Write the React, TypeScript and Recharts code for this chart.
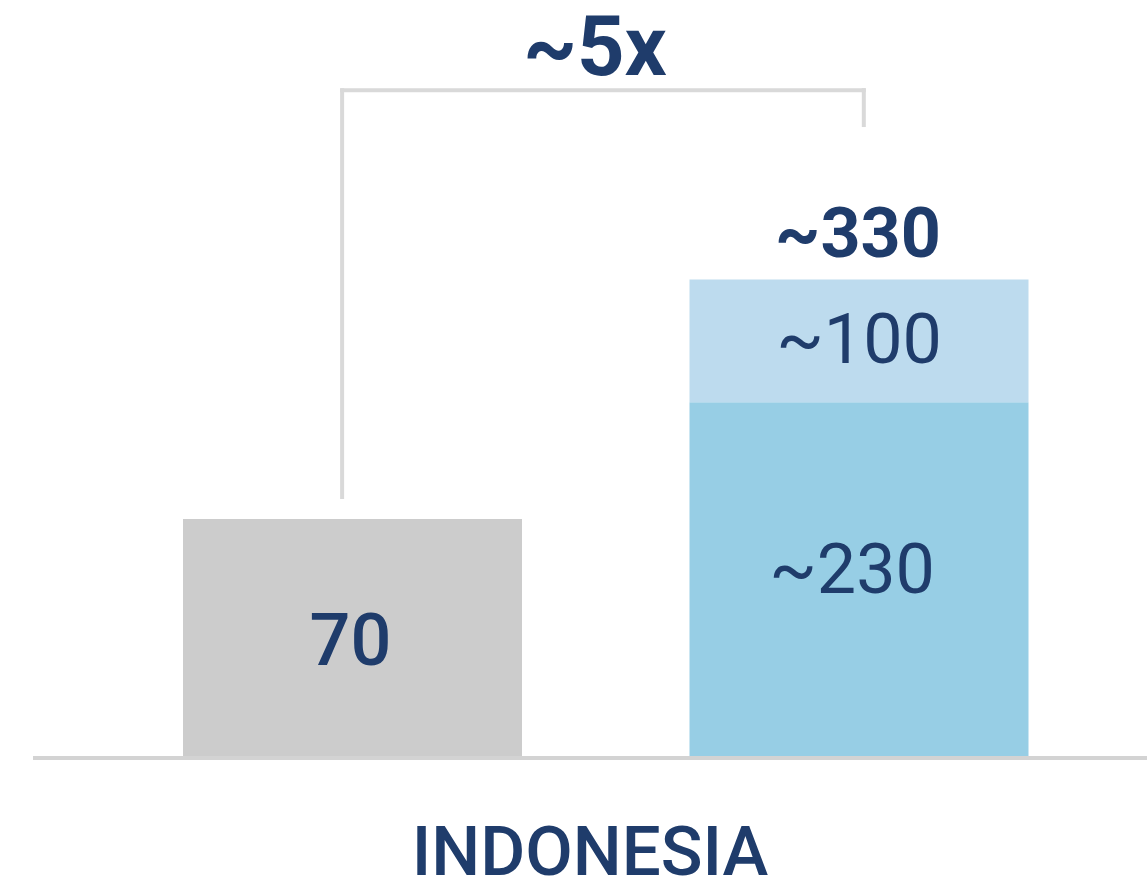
import { Bar, BarChart, LabelList, ReferenceLine, XAxis, YAxis, Label } from "recharts";

// drawn bar heights (the picture is not to scale, labels carry the real numbers)
const categories = ["current", "potential"];
const grayValues = [70, null];
const baseValues = [null, 104.5];
const topValues = [null, 36.3];

const grayLabels = ["70", ""];
const baseLabels = ["", "~230"];
const topLabels = ["", "~100"];
const totalLabels = ["", "~330"];

const countryLabel = "INDONESIA";
const ratioLabel = "~5x";

// bracket, x in category units (0..2), y in the same units as the bars
const bracketLeftX = 0.48;
const bracketRightX = 1.51;
const bracketTopY = 196.7;
const bracketLeftBottomY = 76.5;
const bracketRightBottomY = 186.4;

const NAVY = "#1f3c6b";
const FONT = "Roboto, 'Noto Sans', sans-serif";

const chartData = categories.map((name, i) => ({
    name,
    gray: grayValues[i],
    base: baseValues[i],
    top: topValues[i],
    grayLabel: grayLabels[i],
    baseLabel: baseLabels[i],
    topLabel: topLabels[i],
    totalLabel: totalLabels[i],
}));

const centerLabel = (dx: number, dy: number, size: number, weight: number) => (props: any) => {
    const { x, y, width, height, value } = props;
    if (!value) return null;
    return (
        <text
            x={x + width / 2 + dx}
            y={y + height / 2 + dy}
            textAnchor="middle"
            dominantBaseline="central"
            fill={NAVY}
            fontSize={size}
            fontWeight={weight}
            fontFamily={FONT}
        >
            {value}
        </text>
    );
};

const totalLabel = (props: any) => {
    const { x, y, width, value } = props;
    if (!value) return null;
    return (
        <text x={x + width / 2 - 1} y={y - 22} textAnchor="middle" fill={NAVY} fontSize={70} fontWeight={700} fontFamily={FONT}>
            {value}
        </text>
    );
};

const ratioText = (props: any) => {
    const vb = props.viewBox || {};
    return (
        <text
            x={vb.x + (vb.width || 0) / 2 - 8}
            y={vb.y - 15}
            textAnchor="middle"
            fill={NAVY}
            fontSize={83}
            fontWeight={700}
            fontFamily={FONT}
        >
            {ratioLabel}
        </text>
    );
};

const axisPadding = { left: 66, right: 35 };
const span = categories.length;
const bracketStyle = { stroke: "#d9d9d9", strokeWidth: 4, strokeLinecap: "square" as const };

export default function App() {
    return (
        <div style={{ position: "absolute", left: 0, top: 0, background: "#ffffff" }}>
            <BarChart
                width={1147}
                height={885}
                data={chartData}
                margin={{ top: 79, right: 0, bottom: 0, left: 33 }}
                barSize={339}
            >
                <XAxis
                    dataKey="name"
                    height={129}
                    padding={axisPadding}
                    tick={false}
                    tickLine={false}
                    axisLine={{ stroke: "#d3d3d3", strokeWidth: 4, transform: "translate(0 2)" }}
                >
                    <Label
                        value={countryLabel}
                        position="insideBottom"
                        offset={10}
                        fill={NAVY}
                        fontSize={69}
                        fontWeight={500}
                        fontFamily={FONT}
                    />
                </XAxis>
                <XAxis xAxisId="ann" type="number" domain={[0, 1]} padding={axisPadding} hide allowDataOverflow />
                <YAxis hide domain={[0, 200]} allowDataOverflow />
                <Bar dataKey="gray" stackId="s" fill="#cccccc" isAnimationActive={false}>
                    <LabelList dataKey="grayLabel" content={centerLabel(-2, 3, 72, 500)} />
                </Bar>
                <Bar dataKey="base" stackId="s" fill="#97cee5" isAnimationActive={false}>
                    <LabelList dataKey="baseLabel" content={centerLabel(-7, -10, 70, 400)} />
                </Bar>
                <Bar dataKey="top" stackId="s" fill="#bddbee" isAnimationActive={false}>
                    <LabelList dataKey="topLabel" content={centerLabel(0, -2, 70, 400)} />
                    <LabelList dataKey="totalLabel" content={totalLabel} />
                </Bar>
                <ReferenceLine
                    xAxisId="ann"
                    ifOverflow="visible"
                    segment={[
                        { x: bracketLeftX / span, y: bracketLeftBottomY },
                        { x: bracketLeftX / span, y: bracketTopY },
                    ]}
                    {...bracketStyle}
                />
                <ReferenceLine
                    xAxisId="ann"
                    ifOverflow="visible"
                    segment={[
                        { x: bracketLeftX / span, y: bracketTopY },
                        { x: bracketRightX / span, y: bracketTopY },
                    ]}
                    {...bracketStyle}
                >
                    <Label content={ratioText} />
                </ReferenceLine>
                <ReferenceLine
                    xAxisId="ann"
                    ifOverflow="visible"
                    segment={[
                        { x: bracketRightX / span, y: bracketTopY },
                        { x: bracketRightX / span, y: bracketRightBottomY },
                    ]}
                    {...bracketStyle}
                />
            </BarChart>
        </div>
    );
}
